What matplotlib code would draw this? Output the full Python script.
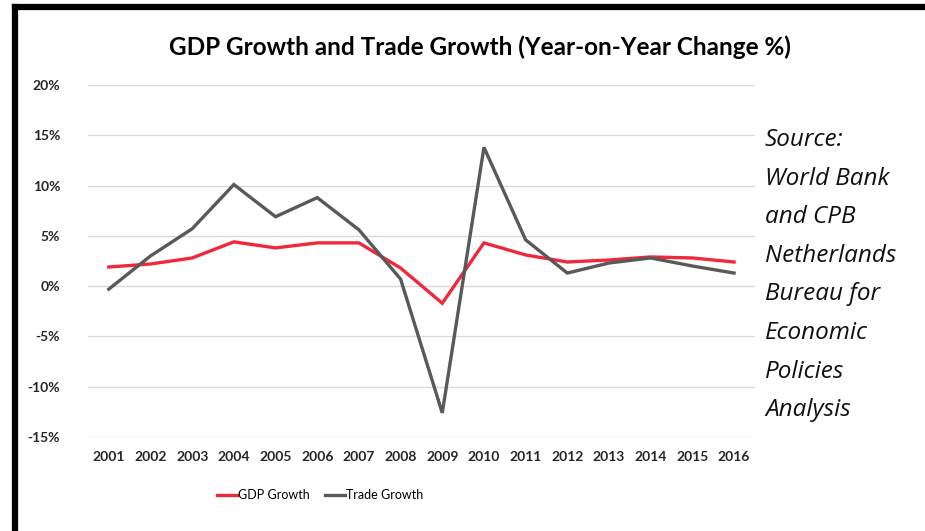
import matplotlib
matplotlib.use("Agg")
import matplotlib.pyplot as plt
from matplotlib.lines import Line2D

years = [str(y) for y in range(2001, 2017)]
gdp_growth = [1.9, 2.2, 2.8, 4.4, 3.8, 4.3, 4.3, 1.8, -1.7, 4.3, 3.1, 2.4, 2.6, 2.9, 2.8, 2.4]
trade_growth = [-0.3, 3.0, 5.7, 10.1, 6.9, 8.8, 5.6, 0.7, -12.6, 13.8, 4.6, 1.3, 2.3, 2.8, 2.0, 1.3]
y_ticks = [-15, -10, -5, 0, 5, 10, 15, 20]
source_lines = ["Source:", "World Bank", "and CPB", "Netherlands", "Bureau for",
                "Economic", "Policies", "Analysis"]

RED = "#f0283c"
GREY = "#595959"
FONT = "Lato"

fig = plt.figure(figsize=(9.25, 5.31), dpi=100)
ax = fig.add_axes([0.0951, 0.177, 0.721, 0.663])

x = range(len(years))
ax.plot(x, gdp_growth, color=RED, lw=2.4, solid_joinstyle="miter", zorder=3)
ax.plot(x, trade_growth, color=GREY, lw=2.4, solid_joinstyle="miter", zorder=3)

ax.set_xlim(-0.5, len(years) - 0.5)
ax.set_ylim(-15, 20)
ax.set_yticks(y_ticks)
ax.set_yticklabels([f"{v}%" for v in y_ticks])
ax.set_xticks(list(x))
ax.set_xticklabels(years)
ax.grid(axis="y", color="#d9d9d9", lw=1)
ax.set_axisbelow(True)
for s in ax.spines.values():
    s.set_visible(False)
ax.tick_params(length=0, labelsize=10)
ax.tick_params(axis="y", pad=20)
ax.tick_params(axis="x", pad=10)
for lab in ax.get_xticklabels() + ax.get_yticklabels():
    lab.set_fontfamily(FONT)
    lab.set_fontweight("bold")
    lab.set_color("#262626")

fig.text(0.519, 0.911, "GDP Growth and Trade Growth (Year-on-Year Change %)",
         ha="center", va="center", fontsize=17.5, fontweight="bold", family=FONT)

# source note down the right-hand side
for i, line in enumerate(source_lines):
    fig.text(765 / 925, 1 - (140 + i * 38.6) / 531, line, ha="left", va="center",
             fontsize=17.5, style="italic", family="Open Sans", color="#111111")

handles = [Line2D([], [], color=RED, lw=2.4), Line2D([], [], color=GREY, lw=2.4)]
fig.legend(handles, ["GDP Growth", "Trade Growth"], loc="center",
           bbox_to_anchor=(0.346, 0.068), ncol=2, frameon=False,
           handlelength=1.6, handletextpad=0.1, columnspacing=1.2,
           prop={"family": FONT, "size": 9})

# frame lines along the top and left edges
fig.add_artist(Line2D([15 / 925, 1], [1 - 7 / 531] * 2, color="black", lw=4.5,
                      transform=fig.transFigure))
fig.add_artist(Line2D([15 / 925] * 2, [0, 1 - 7 / 531], color="black", lw=4.5,
                      transform=fig.transFigure))

fig.savefig("out.png", dpi=100)
